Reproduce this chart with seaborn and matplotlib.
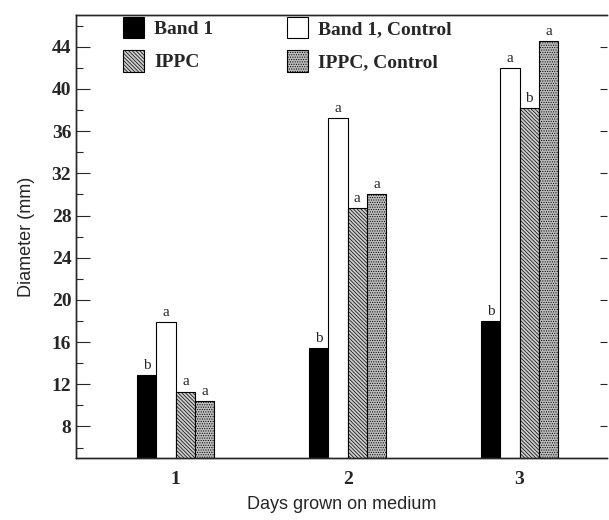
import pandas as pd
import matplotlib
matplotlib.use("Agg")
import matplotlib.pyplot as plt
import seaborn as sns
from matplotlib.patches import Patch

# значения
days = ["1", "2", "3"]
band1 = [12.9, 15.45, 18.0]
band1_control = [17.9, 37.2, 42.0]
ippc = [11.3, 28.7, 38.2]
ippc_control = [10.4, 30.0, 44.5]
series = ["Band 1", "Band 1, Control", "IPPC", "IPPC, Control"]
letters = [["b", "b", "b"], ["a", "a", "a"], ["a", "a", "b"], ["a", "a", "a"]]

rows = []
for name, vals in zip(series, [band1, band1_control, ippc, ippc_control]):
    for d, v in zip(days, vals):
        rows.append({"Day": d, "Group": name, "Diameter": v})
data = pd.DataFrame(rows)

sns.set_style("ticks")
plt.rcParams["hatch.color"] = "black"
plt.rcParams["hatch.linewidth"] = 0.5

fig = plt.figure(figsize=(6.09, 5.2), dpi=100)
ax = fig.add_axes([0.125, 0.119, 0.872, 0.852])

face = {"Band 1": "black", "Band 1, Control": "white",
        "IPPC": "#cccccc", "IPPC, Control": "#bdbdbd"}
hatch = {"Band 1": "", "Band 1, Control": "", "IPPC": "\\" * 9, "IPPC, Control": "." * 7}

sns.barplot(data=data, x="Day", y="Diameter", hue="Group", hue_order=series,
            palette=face, width=0.45, edgecolor="black", linewidth=0.8,
            saturation=1, ax=ax, legend=False)

serif = ["Liberation Serif", "DejaVu Serif"]
sans = ["Liberation Sans", "DejaVu Sans"]

for cont, name, labs in zip(ax.containers, series, letters):
    for bar, lab in zip(cont, labs):
        bar.set_hatch(hatch[name])
        bar.set_facecolor(face[name])
        ax.text(bar.get_x() + bar.get_width() / 2, bar.get_height() + 0.3, lab,
                ha="center", va="bottom", fontsize=11, family=serif)

# легенда
handles = [Patch(facecolor=face[s], edgecolor="black", hatch=hatch[s], linewidth=0.8) for s in series]
order = [0, 2, 1, 3]
leg = ax.legend([handles[i] for i in order], [series[i] for i in order], ncol=2,
                loc="upper left", bbox_to_anchor=(0.055, 1.035), frameon=False,
                handlelength=1.1, handleheight=1.3, handletextpad=0.5,
                columnspacing=3.8, labelspacing=0.62,
                prop={"family": serif, "weight": "bold", "size": 14})

ax.set_ylim(5, 47)
ax.set_xlim(-0.58, 2.51)
ax.set_yticks(range(8, 45, 4))
ax.set_yticks(range(6, 47, 2), minor=True)
ax.tick_params(axis="y", which="major", direction="in", length=10, width=0.8,
               right=False, labelsize=14)
ax.tick_params(axis="y", which="minor", direction="in", length=5, width=0.8)
ax.tick_params(axis="x", length=0, labelsize=14, pad=9)
for lab in ax.get_xticklabels() + ax.get_yticklabels():
    lab.set_family(serif)
    lab.set_fontweight("bold")

# короткие штрихи справа
ax2 = ax.twinx()
ax2.set_ylim(ax.get_ylim())
ax2.set_yticks(range(8, 45, 4))
ax2.tick_params(axis="y", direction="in", length=5, width=0.8, labelright=False)
for a in (ax, ax2):
    a.spines["right"].set_visible(False)
    for s in ["left", "top", "bottom"]:
        a.spines[s].set_linewidth(1.0)

ax.set_xlabel("Days grown on medium", family=sans, fontsize=13, labelpad=6)
ax.set_ylabel("Diameter (mm)", family=sans, fontsize=13, labelpad=12)

fig.savefig("out.png", dpi=100)
